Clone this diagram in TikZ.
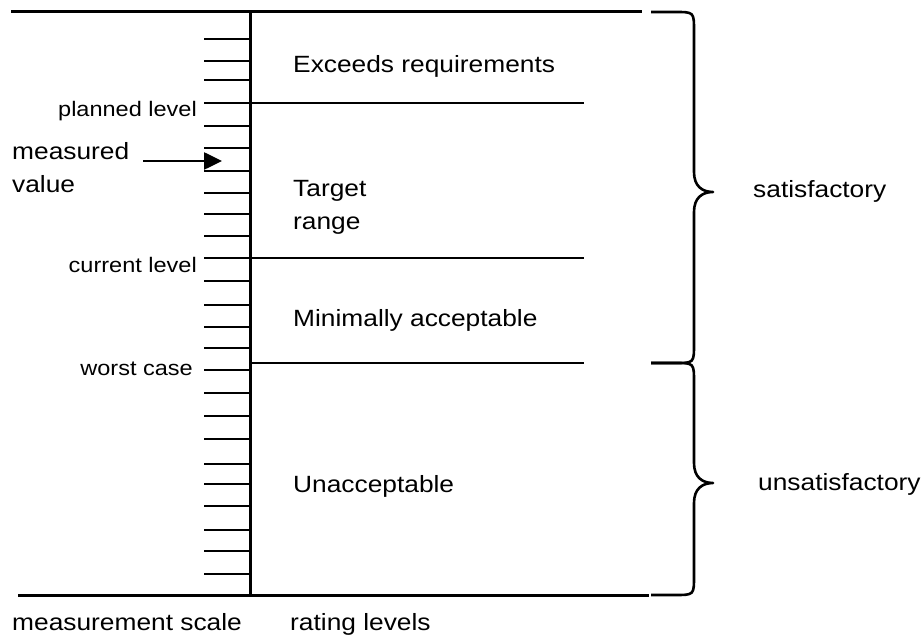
\documentclass[tikz,border=0pt]{standalone}
\usepackage{fontspec}
\setmainfont{Liberation Sans}[FakeStretch=1.12]
\usepackage{tikz}
\usetikzlibrary{positioning, arrows.meta}

\tikzset{
	axis/.style={line width=3pt},
	tickline/.style={line width=2.8pt},
	rate/.style={line width=2.5pt},
	curly/.style={line width=2.6pt, line join=round},
	bigtext/.style={font=\fontsize{23.5}{33}\selectfont, inner sep=0pt, align=left},
	smalltext/.style={font=\fontsize{21}{26}\selectfont, inner sep=0pt},
}

\begin{document}
\begin{tikzpicture}[x=1pt, y=-1pt]
	\useasboundingbox (0,0) rectangle (924,636);

	% scale and frame
	\draw[axis] (11,12) -- (642,12);
	\draw[axis] (18,595) -- (649,595);
	\draw[axis] (250,12) -- (250,595);
	\foreach \y [count=\i] in {39,61,80,103,126,148,171,193,214,236,258,281,305,327,348,370,393,416,439,464,484,506,530,551,574}
		\draw[tickline] (204,\y) coordinate (t\i) -- (250,\y);

	% rating levels
	\draw[rate] (250,103) -- (584,103);
	\draw[rate] (250,258) -- (584,258);
	\draw[rate] (250,363) -- (584,363);

	% labels on the scale
	\node[smalltext, anchor=base east] (planned) at (197,117) {planned level};
	\node[smalltext, anchor=base east] (current) at (197,273) {current level};
	\node[smalltext, anchor=base east] (worst) at (193,375) {worst case};
	\node[bigtext, anchor=north west] (measured) at (12,142) {measured\\value};
	\coordinate (mtail) at (143,161);
	\coordinate (mtip) at (222,161);
	\draw[line width=2.6pt, -{Triangle[length=18pt, width=17pt]}] (mtail) -- (mtip);

	% texts of the levels
	\node[bigtext, anchor=base west] (exceeds) at (293,73) {Exceeds requirements};
	\node[bigtext, anchor=north west] (target) at (293,180) {Target\\range};
	\node[bigtext, anchor=base west] (minimal) at (293,327) {Minimally acceptable};
	\node[bigtext, anchor=base west] (unaccept) at (293,492) {Unacceptable};

	% braces
	\draw[curly] (651,12) -- (675,12) .. controls (694,12) .. (694,31) -- (694,172)
		.. controls (694,186) and (702,192) .. (713,192)
		.. controls (702,192) and (694,198) .. (694,212) -- (694,344)
		.. controls (694,363) .. (675,363) -- (651,363);
	\draw[curly] (651,363) -- (675,363) .. controls (694,363) .. (694,382) -- (694,463)
		.. controls (694,477) and (702,483) .. (713,483)
		.. controls (702,483) and (694,489) .. (694,503) -- (694,576)
		.. controls (694,595) .. (675,595) -- (651,595);
	\node[bigtext, anchor=base west] (sat) at (753,198) {satisfactory};
	\node[bigtext, anchor=base west] (unsat) at (758,490) {unsatisfactory};

	% captions
	\node[bigtext, anchor=base west] (mscale) at (12,630) {measurement scale};
	\node[bigtext, anchor=base west] (rlevels) at (290,630) {rating levels};
\end{tikzpicture}
\end{document}
